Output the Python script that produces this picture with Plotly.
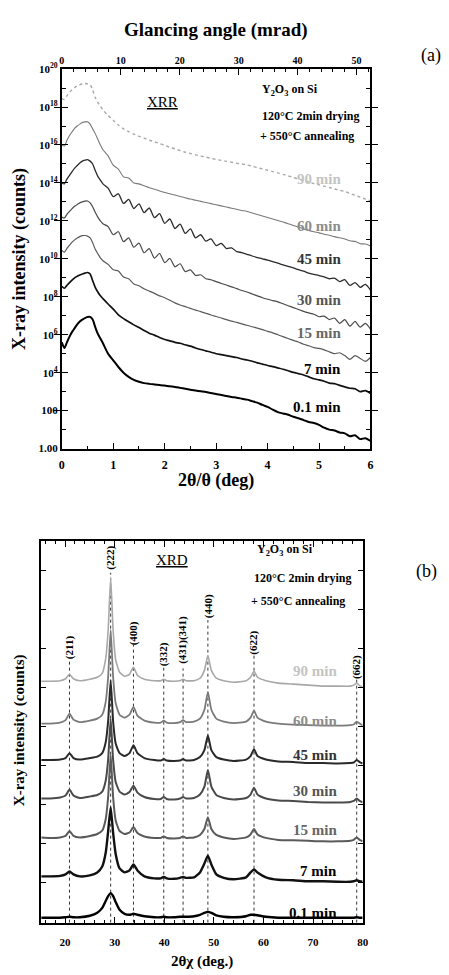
import math
import plotly.graph_objects as go

# ---------------- DATA ----------------
series_names = ["0.1 min", "7 min", "15 min", "30 min", "45 min", "60 min", "90 min"]

# (a) XRR: 2theta/theta angle (deg) and log10 of intensity (counts)
xrr_angle = [0.0, 0.05, 0.1, 0.15, 0.2, 0.25, 0.3, 0.35, 0.4, 0.45, 0.5, 0.55, 0.6, 0.65, 0.7, 0.75, 0.8,
             0.9, 1.0, 1.1, 1.2, 1.3, 1.4, 1.5, 1.6, 1.7, 1.8, 1.9, 2.0, 2.1, 2.2, 2.3, 2.4, 2.5, 2.6,
             2.7, 2.8, 2.9, 3.0, 3.1, 3.2, 3.3, 3.4, 3.5, 3.6, 3.7, 3.8, 3.9, 4.0, 4.1, 4.2, 4.3, 4.4,
             4.5, 4.6, 4.7, 4.8, 4.9, 5.0, 5.1, 5.2, 5.3, 5.4, 5.5, 5.6, 5.7, 5.8, 5.9, 6.0]

xrr_log_01min = [5.6, 5.3, 5.6, 5.9, 6.15, 6.35, 6.55, 6.7, 6.8, 6.88, 6.93, 6.94, 6.8, 6.4, 6.05, 5.8, 5.55,
                 5.0, 4.65, 4.3, 4.0, 3.78, 3.62, 3.52, 3.45, 3.41, 3.38, 3.35, 3.32, 3.28, 3.25, 3.2, 3.15,
                 3.1, 3.06, 3.02, 2.98, 2.93, 2.88, 2.82, 2.77, 2.72, 2.68, 2.63, 2.58, 2.5, 2.42, 2.3, 2.2,
                 2.05, 1.92, 1.85, 1.78, 1.68, 1.6, 1.5, 1.4, 1.35, 1.25, 1.1, 1.0, 0.95, 0.85, 0.8, 0.65,
                 0.7, 0.5, 0.55, 0.4]
xrr_log_7min = [8.55, 8.45, 8.6, 8.75, 8.88, 9.0, 9.08, 9.15, 9.2, 9.25, 9.28, 9.2, 8.85, 8.5, 8.25, 8.05, 7.9,
                7.62, 7.35, 7.05, 6.85, 6.68, 6.52, 6.38, 6.22, 6.08, 5.98, 5.85, 5.75, 5.68, 5.6, 5.55, 5.47,
                5.4, 5.3, 5.22, 5.15, 5.08, 5.0, 4.95, 4.9, 4.85, 4.8, 4.72, 4.67, 4.6, 4.52, 4.45, 4.38,
                4.32, 4.25, 4.18, 4.1, 4.02, 3.95, 3.88, 3.78, 3.68, 3.62, 3.55, 3.45, 3.42, 3.33, 3.25, 3.18,
                3.15, 3.0, 3.05, 2.9]
xrr_log_15min = [10.45, 10.35, 10.55, 10.72, 10.88, 11.0, 11.1, 11.17, 11.22, 11.23, 11.2, 11.1, 10.85, 10.5,
                 10.27, 10.05, 9.9,
                 9.71, 9.42, 9.36, 9.04, 8.95, 8.68, 8.58, 8.42, 8.3, 8.18, 8.05, 7.95, 7.82, 7.68, 7.57,
                 7.48, 7.39, 7.3, 7.22, 7.13, 7.04, 6.96, 6.88, 6.8, 6.72, 6.65, 6.57, 6.5, 6.42, 6.35, 6.27,
                 6.18, 6.1, 6.0, 5.9, 5.8, 5.7, 5.62, 5.5, 5.42, 5.32, 5.28, 5.2, 5.1, 5.0, 5.05, 4.9, 4.7,
                 4.9, 4.75, 4.6, 4.8]
xrr_log_30min = [12.2, 12.15, 12.35, 12.5, 12.65, 12.77, 12.87, 12.95, 13.0, 13.04, 13.05, 12.95, 12.75, 12.45,
                 12.2, 12.0, 11.85,
                 11.70, 11.27, 11.43, 10.90, 11.11, 10.61, 10.83, 10.32, 10.54, 10.04, 10.28, 9.80, 10.02,
                 9.58, 9.74, 9.33, 9.42, 9.12, 9.16, 8.95, 8.9, 8.8, 8.7, 8.62, 8.52, 8.43, 8.33, 8.25, 8.15,
                 8.05, 7.95, 7.87, 7.8, 7.73, 7.63, 7.53, 7.43, 7.33, 7.23, 7.15, 7.08, 6.95, 6.98, 6.8, 6.88,
                 6.6, 6.8, 6.45, 6.7, 6.4, 6.6, 6.3]
xrr_log_45min = [14.0, 13.95, 14.2, 14.4, 14.6, 14.78, 14.92, 15.05, 15.15, 15.2, 15.23, 15.15, 15.0, 14.65,
                 14.35, 14.15, 13.95,
                 13.73, 13.28, 13.43, 12.92, 13.13, 12.65, 12.90, 12.44, 12.68, 12.17, 12.38, 11.87, 12.10,
                 11.60, 11.83, 11.34, 11.58, 11.10, 11.27, 10.93, 11.05, 10.70, 10.82, 10.54, 10.58, 10.38,
                 10.33, 10.24, 10.15, 10.07, 10.0, 9.93, 9.85, 9.77, 9.68, 9.6, 9.52, 9.43, 9.35, 9.25, 9.18,
                 9.12, 9.05, 8.95, 8.98, 8.8, 8.9, 8.6, 8.75, 8.5, 8.65, 8.35]
xrr_log_60min = [16.0, 15.95, 16.25, 16.5, 16.7, 16.88, 17.0, 17.1, 17.18, 17.22, 17.23, 17.1, 16.85, 16.6,
                 16.3, 16.0, 15.75,
                 15.43, 14.94, 14.73, 14.32, 14.26, 14.0, 13.95, 13.85, 13.75, 13.67, 13.58, 13.5, 13.43,
                 13.36, 13.29, 13.22, 13.15, 13.09, 13.03, 12.97, 12.91, 12.85, 12.79, 12.73, 12.67, 12.61,
                 12.55, 12.5, 12.42, 12.34, 12.26, 12.18, 12.1, 12.02, 11.94, 11.85, 11.76, 11.67, 11.58,
                 11.5, 11.43, 11.37, 11.3, 11.24, 11.17, 11.11, 11.05, 10.95, 10.92, 10.8, 10.78, 10.68]
xrr_log_90min = [18.45, 18.4, 18.6, 18.78, 18.92, 19.03, 19.12, 19.18, 19.22, 19.24, 19.22, 19.2, 18.9, 18.5,
                 18.25, 18.05, 17.85,
                 17.55, 17.3, 17.05, 16.85, 16.7, 16.57, 16.46, 16.36, 16.26, 16.17, 16.08, 15.98, 15.88,
                 15.8, 15.7, 15.62, 15.55, 15.48, 15.42, 15.36, 15.3, 15.24, 15.19, 15.14, 15.09, 15.04, 15.0,
                 14.95, 14.88, 14.81, 14.74, 14.67, 14.6, 14.53, 14.45, 14.37, 14.29, 14.21, 14.13, 14.05,
                 13.97, 13.9, 13.83, 13.76, 13.68, 13.62, 13.55, 13.45, 13.35, 13.25, 13.15, 13.05]

# (b) XRD: 2theta-chi (deg), net intensity (a.u.) and stacking offsets
xrd_angle = [15.2, 17, 19, 20.1, 20.9, 21.7, 23, 25, 26.5, 27.5, 28.2, 28.7, 29.2, 29.7, 30.2, 31, 32, 33.0,
             33.8, 34.6, 36, 38, 39.3, 39.9, 40.5, 42, 43.2, 43.8, 44.4, 46, 47.2, 48.1, 48.8, 49.5, 50.5,
             52, 54, 56.5, 57.4, 58.1, 58.8, 60.5, 63, 66, 69, 72, 75, 77.5, 78.2, 78.8, 79.4, 80.0]

xrd_01min = [0, 0, 0, 0.5, 1, 0.5, 0.5, 2, 5, 10, 17, 22, 25, 22, 16, 8, 4, 3, 4, 3, 1.5, 0.5, 0.5, 1, 0.5,
             0.5, 1, 1, 1, 1.5, 3, 5, 6, 5, 2.5, 1, 0.5, 1.5, 3, 3, 2.5, 1, 0, 0, 0, 0, 0, 0, 0, 0.5, 0, 0]
xrd_7min = [4, 4, 4.5, 6, 9, 6, 4, 5, 8, 14, 28, 50, 74, 48, 27, 12, 8, 10, 16, 10, 4, 2, 2, 3.5, 2, 1.5, 2.5,
            3.5, 2.5, 3, 8, 17, 25, 16, 6, 2.5, 1, 3, 8, 11, 8, 3, 0.5, 0, -1, -1, -1.5, -1.5, -1, 0, -1, -1.5]
xrd_15min = [1.5, 1, 1.5, 3, 8, 3, 1.5, 3, 5, 8.5, 20, 43, 85, 42, 19, 8, 5, 6.5, 12, 6, 2.5, 1, 1, 2.5, 1,
             0.5, 1, 2.5, 1, 1.5, 4, 10, 22, 10, 4, 1.5, 0, 1.5, 4.5, 10, 4.5, 1, -1, -1.5, -2, -2.5, -2.5,
             -2, -1, 1.5, -1, -2.5]
xrd_30min = [1, 1, 2, 4, 10, 4, 1.5, 3, 4.5, 8, 19, 41, 82, 40, 18, 8, 5, 7.5, 14, 7, 2.5, 0.5, 0.5, 2.5, 0.5,
             0, 1, 2.5, 1, 1.5, 5, 13, 30, 13, 4.5, 1.5, 0, 1.5, 5, 12, 5, 1, -1, -1.5, -2.5, -3, -3, -2.5,
             -1.5, 1, -1.5, -3]
xrd_45min = [1, 1, 1.5, 3, 8, 3, 1.5, 3, 4.5, 8, 19, 41, 82, 40, 18, 8, 5, 8, 16, 8, 3, 1, 0.5, 2, 0.5, 0,
             0.5, 2, 0.5, 1, 4, 11, 26, 11, 4, 1.5, 0, 1.5, 5, 12, 5, 1.5, -0.5, -1, -2, -2, -2.5, -2, -1.5,
             1, -1, -2.5]
xrd_60min = [0, 0, 1, 3.5, 10, 4, 1.5, 3, 5, 9, 22, 48, 95, 47, 21, 9, 6, 9, 17, 8, 3, 1, 1, 3, 1, 0.5, 1.5,
             3.5, 1.5, 2, 5, 14, 32, 14, 5, 2, 0.5, 2, 6, 13, 6, 2, 0, -1, -1.5, -2, -2, -1.5, -1, 2, 0, -2]
xrd_90min = [1, 1, 1.5, 3.5, 8, 3.5, 1.5, 3, 5, 9, 24, 53, 106, 52, 23, 10, 6, 8, 15, 7, 3, 1.5, 1.5, 3, 1.5,
             1, 1.5, 3, 1.5, 1.5, 4, 12, 27, 12, 4, 1.5, 0, 1.5, 5, 11, 5, 1.5, -1, -2, -3, -4, -4, -4, -3,
             -1, -3.5, -5]
xrd_offsets = [5, 43, 85, 125, 164, 202, 244]

hkl_labels = ["(211)", "(222)", "(400)", "(332)", "(431)(341)", "(440)", "(622)", "(662)"]
hkl_angles = [20.9, 29.2, 33.8, 39.9, 43.8, 48.8, 58.1, 78.8]

# ---------------- STYLE / LAYOUT ----------------
FW, FH = 449, 975
SERIF = "Liberation Serif"


def fx(p):
    return p / FW


def fy(p):
    return 1 - p / FH


xrr_series = [xrr_log_01min, xrr_log_7min, xrr_log_15min, xrr_log_30min,
              xrr_log_45min, xrr_log_60min, xrr_log_90min]
xrd_series = [xrd_01min, xrd_7min, xrd_15min, xrd_30min, xrd_45min, xrd_60min, xrd_90min]

line_colors = ["#000000", "#111111", "#5a5a5a", "#4a4a4a", "#2a2a2a", "#7a7a7a", "#a8a8a8"]
line_widths_a = [2.0, 1.7, 1.2, 1.2, 1.3, 1.1, 1.4]
line_widths_b = [2.4, 2.4, 2.0, 2.0, 2.0, 1.8, 1.6]
label_colors = ["#000000", "#000000", "#666666", "#555555", "#333333", "#8c8c8c", "#c4c4c4"]
label_logy_a = [2.18, 4.18, 6.09, 7.83, 10.01, 11.73, 14.19]
label_y_b = [10, 52, 94, 134, 170, 205, 255]
hkl_label_y = [280, 370, 294, 272, 287, 321, 284, 259]
hkl_line_top = [265, 355, 282, 260, 258, 307, 271, 247]

mrad_max = 3.0 * math.pi / 180 * 1000  # glancing angle at 2theta = 6 deg

fig = go.Figure()

for i, (name, vals) in enumerate(zip(series_names, xrr_series)):
    fig.add_trace(go.Scatter(
        x=xrr_angle, y=[10.0 ** v for v in vals], xaxis="x", yaxis="y", mode="lines",
        name=name, showlegend=False,
        line=dict(color=line_colors[i], width=line_widths_a[i], shape="spline", smoothing=0.7,
                  dash="dot" if name == "90 min" else "solid")))

fig.add_trace(go.Scatter(x=[0, mrad_max], y=[None, None], xaxis="x3", yaxis="y",
                         mode="lines", showlegend=False, hoverinfo="skip"))
fig.add_trace(go.Scatter(x=[0, 6], y=[None, None], xaxis="x", yaxis="y3",
                         mode="lines", showlegend=False, hoverinfo="skip"))

for ang, top in zip(hkl_angles, hkl_line_top):
    fig.add_trace(go.Scatter(x=[ang, ang], y=[0, top], xaxis="x2", yaxis="y2", mode="lines",
                             showlegend=False, hoverinfo="skip",
                             line=dict(color="black", width=0.8, dash="dot")))

for i, (name, vals) in enumerate(zip(series_names, xrd_series)):
    fig.add_trace(go.Scatter(
        x=xrd_angle, y=[xrd_offsets[i] + v for v in vals], xaxis="x2", yaxis="y2", mode="lines",
        name=name, showlegend=False,
        line=dict(color=line_colors[i], width=line_widths_b[i], shape="spline", smoothing=0.5)))

tick_font = dict(family=SERIF, size=12, color="black", weight="bold")
axis_common = dict(showgrid=False, zeroline=False, showline=True, linecolor="black", linewidth=1.8,
                   ticks="inside", tickcolor="black", tickwidth=1.2)

even_dec = list(range(0, 21, 2))
odd_dec = list(range(1, 21, 2))
yvals = [10.0 ** k for k in even_dec]
ytext = []
for k in even_dec:
    if k == 0:
        ytext.append("1.00")
    elif k == 2:
        ytext.append("100")
    else:
        ytext.append("10<sup>%d</sup>" % k)

fig.update_layout(
    width=FW, height=FH, margin=dict(l=0, r=0, t=0, b=0),
    paper_bgcolor="white", plot_bgcolor="white", showlegend=False,
    font=dict(family=SERIF, color="black"),
    xaxis=dict(domain=[fx(60), fx(375)], range=[0, 6], anchor="y", tickmode="linear", tick0=0, dtick=1,
               ticklen=6, mirror=True, tickfont=tick_font, ticklabelstandoff=4,
               minor=dict(ticks="inside", ticklen=3, dtick=0.5, tickcolor="black"), **axis_common),
    xaxis3=dict(overlaying="x", side="top", anchor="y", range=[0, mrad_max], tickmode="linear", tick0=0,
                dtick=10, ticks="inside", ticklen=6, tickcolor="black", showline=False, showgrid=False,
                zeroline=False, tickfont=dict(family=SERIF, size=10, color="black", weight="bold"),
                ticklabelstandoff=2,
                minor=dict(ticks="inside", ticklen=3, dtick=2, tickcolor="black")),
    yaxis=dict(domain=[fy(447), fy(62)], type="log", range=[0, 20], anchor="x", tickmode="array",
               tickvals=yvals, ticktext=ytext, ticklen=6, mirror="allticks",
               tickfont=dict(family=SERIF, size=11, color="black", weight="bold"), **axis_common),
    yaxis3=dict(overlaying="y", type="log", range=[0, 20], anchor="x", tickmode="array",
                tickvals=[10.0 ** k for k in odd_dec], showticklabels=False, ticks="inside", ticklen=4,
                tickcolor="black", tickwidth=1.0, mirror="allticks", showline=False, showgrid=False,
                zeroline=False),
    xaxis2=dict(domain=[fx(39), fx(367)], range=[15.2, 80], anchor="y2", tickmode="linear", tick0=0,
                dtick=10, ticklen=6, mirror="allticks", ticklabelstandoff=8,
                tickfont=dict(family=SERIF, size=11, color="black", weight="bold"),
                minor=dict(ticks="inside", ticklen=3, dtick=2, tickcolor="black"), **axis_common),
    yaxis2=dict(domain=[fy(928), fy(541)], range=[0, 387], anchor="x2", tickmode="array",
                tickvals=[41 + 39.5 * k for k in range(9)], showticklabels=False, ticklen=5,
                mirror="allticks", **axis_common),
)

ann = []


def paper_text(text, x, y, size, bold=True, angle=0, xanchor="center", color="black"):
    ann.append(dict(text=text, x=fx(x), y=fy(y), xref="paper", yref="paper", showarrow=False,
                    xanchor=xanchor, yanchor="middle", textangle=angle,
                    font=dict(family=SERIF, size=size, color=color,
                              weight="bold" if bold else "normal")))


# panel (a)
paper_text("Glancing angle (mrad)", 217, 22, 19)
paper_text("2θ/θ (deg)", 217, 479, 18)
paper_text("X-ray intensity (counts)", 17, 255, 18, angle=-90)
paper_text("(a)", 437, 48, 18, bold=False)
paper_text("<u>XRR</u>", 163, 95, 15, bold=False)
paper_text("Y<sub>2</sub>O<sub>3</sub> on Si", 262, 83, 12, xanchor="left")
paper_text("120°C 2min drying", 262, 110, 12, xanchor="left")
paper_text("+ 550°C annealing", 260, 130, 12, xanchor="left")

# panel (b)
paper_text("2θχ (deg.)", 203, 967, 15)
paper_text("X-ray intensity (counts)", 17, 733, 15, angle=-90)
paper_text("(b)", 432, 572, 18, bold=False)
paper_text("<u>XRD</u>", 172, 560, 15, bold=False)
paper_text("Y<sub>2</sub>O<sub>3</sub> on Si", 257, 550, 12, xanchor="left")
paper_text("120°C 2min drying", 254, 578, 12, xanchor="left")
paper_text("+ 550°C annealing", 251, 602, 12, xanchor="left")

for i, name in enumerate(series_names):
    ann.append(dict(text=name, x=5.47, y=label_logy_a[i], xref="x", yref="y", showarrow=False,
                    xanchor="right", yanchor="middle",
                    font=dict(family=SERIF, size=15, color=label_colors[i], weight="bold")))
    ann.append(dict(text=name, x=75.2, y=label_y_b[i], xref="x2", yref="y2", showarrow=False,
                    xanchor="right", yanchor="middle",
                    font=dict(family=SERIF, size=15, color=label_colors[i], weight="bold")))

for lab, ang, ly in zip(hkl_labels, hkl_angles, hkl_label_y):
    ann.append(dict(text=lab, x=ang, y=ly, xref="x2", yref="y2", showarrow=False, textangle=-90,
                    xanchor="center", yanchor="middle",
                    font=dict(family=SERIF, size=11, color="black", weight="bold")))

fig.update_layout(annotations=ann)
fig.write_html("out.html")
